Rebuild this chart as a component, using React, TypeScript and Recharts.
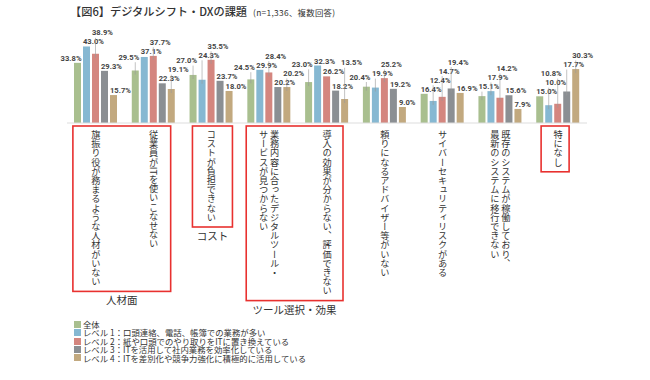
import React from "react";
import { Bar, BarChart, LabelList, Legend, XAxis, YAxis } from "recharts";

const categoryLines: string[][] = [
    ["旗振り役が務まるような人材がいない"],
    ["従業員がITを使いこなせない"],
    ["コストが負担できない"],
    ["業務内容に合ったデジタルツール・", "サービスが見つからない"],
    ["導入の効果が分からない、評価できない"],
    ["頼りになるアドバイザー等がいない"],
    ["サイバーセキュリティリスクがある"],
    ["既存のシステムが稼働しており、", "最新のシステムに移行できない"],
    ["特になし"],
];

const overall = [33.8, 29.5, 27.0, 24.5, 23.0, 20.4, 16.4, 15.1, 15.0];
const level1 = [43.0, 37.1, 24.3, 29.9, 32.3, 19.9, 12.4, 17.9, 10.0];
const level2 = [38.9, 37.7, 35.5, 28.4, 26.2, 25.2, 14.7, 14.2, 10.8];
const level3 = [29.3, 22.3, 23.7, 20.2, 18.2, 19.2, 19.4, 15.6, 17.7];
const level4 = [15.7, 19.1, 18.0, 20.2, 13.5, 9.0, 16.9, 7.9, 30.3];

const seriesNames = [
    "全体",
    "レベル 1：口頭連絡、電話、帳簿での業務が多い",
    "レベル 2：紙や口頭でのやり取りをITに置き換えている",
    "レベル 3：ITを活用して社内業務を効率化している",
    "レベル 4：ITを差別化や競争力強化に積極的に活用している",
];
const seriesValues = [overall, level1, level2, level3, level4];
const colors = ["#a9bf8f", "#86b8d2", "#d4867f", "#8b8f93", "#c2a97f"];

// red frames under the axis + their group captions
const groups = [
    { from: 0, to: 1, label: "人材面", padL: 23, padR: 17 },
    { from: 2, to: 2, label: "コスト", padL: 19, padR: 21 },
    { from: 3, to: 4, label: "ツール選択・効果", padL: 23, padR: 16 },
    { from: 8, to: 8, label: "", padL: 17, padR: 11 },
];

const data = categoryLines.map((lines, i) => {
    const row: Record<string, string | number> = { name: lines.join("") };
    seriesValues.forEach((vals, s) => { row["s" + s] = vals[i]; });
    return row;
});

const JP = "'Noto Sans CJK JP', sans-serif";
const NUM_SIZE = 7.6;
const NUM_FONT = "Roboto, 'DejaVu Sans', sans-serif";
const PLOT_LEFT = 67;
const PLOT_W = 520;
const PITCH = PLOT_W / 9;
const CHAR = 9.2;
const TEXT_TOP = 130;
const bandCenter = (i: number) => PLOT_LEFT + PITCH * (i + 0.5);

let ctx: CanvasRenderingContext2D | null = null;
const textW = (t: string) => {
    if (!ctx) ctx = document.createElement("canvas").getContext("2d");
    if (!ctx) return t.length * 4;
    ctx.font = `bold ${NUM_SIZE}px ${NUM_FONT}`;
    return ctx.measureText(t).width;
};

type Rect = { x0: number; x1: number; y0: number; y1: number };
type Lab = { x0: number; w: number; y: number; top: number; lead: boolean };

const fmt = (v: number) => v.toFixed(1) + "%";
const rectAt = (x0: number, w: number, y: number): Rect => ({ x0, x1: x0 + w, y0: y - 7.1, y1: y + 1.9 });

let cacheKey = "";
let cache: Lab[][] = [];

// place every value label so that none sits on a bar or on another label
const layoutAll = (base: number, k: number, gx0: number, bw: number): Lab[][] => {
    const key = [base, k, gx0, bw].join("|");
    if (key === cacheKey) return cache;
    const bars: Rect[] = [];
    categoryLines.forEach((_, g) => seriesValues.forEach((vals, j) => {
        const bx = gx0 + g * PITCH + j * (bw + 2);
        bars.push({ x0: bx, x1: bx + bw, y0: base - vals[g] * k, y1: base });
    }));
    const placed: Rect[] = [];
    const hit = (r: Rect) => [...placed, ...bars].find(o =>
        Math.min(o.x1, r.x1) - Math.max(o.x0, r.x0) > 0.3 && Math.min(o.y1, r.y1) - Math.max(o.y0, r.y0) > 0);
    const climb = (x0: number, w: number, y: number) => {
        let h = hit(rectAt(x0, w, y));
        let n = 0;
        while (h && n < 60) {
            y = Math.min(y, h.y0 - 2);
            h = hit(rectAt(x0, w, y));
            n++;
        }
        return y;
    };
    const res: Lab[][] = categoryLines.map((_, g) => seriesValues.map((vals, j) => {
        const v = vals[g];
        const w = textW(fmt(v)) + 0.5;
        const top = base - v * k;
        const bx = gx0 + g * PITCH + j * (bw + 2);
        const startX = bx;
        const endX = bx + bw + 1 - w;
        const cands = j === 0 ? [endX, startX] : [startX, endX];
        let best = { x0: cands[0], y: -1e9 };
        cands.forEach(c => {
            const y = climb(c, w, top - 2);
            if (y > best.y + 0.5) best = { x0: c, y };
        });
        let lead = best.y < top - 5;
        if (j === 4 && lead) {
            const rx = bx + bw + 1;
            const ry = top + 3;
            if (!hit(rectAt(rx, w, ry))) { best = { x0: rx, y: ry }; lead = false; }
        }
        placed.push(rectAt(best.x0, w, best.y));
        return { x0: best.x0, w, y: best.y, top, lead };
    }));
    cacheKey = key;
    cache = res;
    return res;
};

const makeLabel = (s: number) => (props: any) => {
    const { x, y, width, height, value, index } = props;
    if (!value) return null;
    const k = height / value;
    const gx0 = x - s * (width + 2) - index * PITCH;
    const l = layoutAll(y + height, k, gx0, width)[index][s];
    const cx = x + width / 2;
    return (
        <g>
            {l.lead && (
                <line x1={cx} x2={cx} y1={l.y + 2.5} y2={l.top + 4} stroke="#999" strokeWidth={0.6} />
            )}
            <text x={l.x0} y={l.y} fontSize={NUM_SIZE} fontWeight="bold" fill="#444" fontFamily={NUM_FONT}>
                {fmt(value)}
            </text>
        </g>
    );
};

const CategoryTick = (props: any) => {
    const { index } = props;
    const x = bandCenter(index);
    const lines = categoryLines[index] || [];
    const n = lines.length;
    const grp = groups.find(g => g.from === index);
    let frame = null;
    if (grp) {
        const maxChars = Math.max(
            ...categoryLines.slice(grp.from, grp.to + 1).flat().map(l => Array.from(l).length)
        );
        const left = x - grp.padL;
        const right = bandCenter(grp.to) + grp.padR;
        const top = 126;
        const bottom = TEXT_TOP + maxChars * CHAR + 5;
        frame = (
            <g>
                <rect x={left} y={top} width={right - left} height={bottom - top} fill="none" stroke="#e8312f" strokeWidth={1.6} />
                {grp.label && (
                    <text x={(left + right) / 2} y={bottom + 13} textAnchor="middle" fontSize={10.5} fill="#333" fontFamily={JP}>
                        {grp.label}
                    </text>
                )}
            </g>
        );
    }
    return (
        <g>
            {lines.map((l, i) => (
                <text
                    key={i}
                    x={x + (n === 1 ? 0 : (n - 1 - 2 * i) * 5.5)}
                    y={TEXT_TOP}
                    fontSize={CHAR}
                    fill="#333"
                    fontFamily={JP}
                    style={{ writingMode: "vertical-rl" }}
                >
                    {l}
                </text>
            ))}
            {frame}
        </g>
    );
};

const LegendBox = () => (
    <div style={{ fontFamily: JP, fontSize: 8.4, color: "#333", lineHeight: "8.4px" }}>
        {seriesNames.map((n, i) => (
            <div key={i} style={{ display: "flex", alignItems: "center", whiteSpace: "nowrap" }}>
                <span style={{ display: "inline-block", width: 7, height: 7, background: colors[i], marginRight: 2 }} />
                {n}
            </div>
        ))}
    </div>
);

export default function App() {
    return (
        <div style={{ position: "absolute", left: 0, top: 0, width: 650, height: 380, background: "#fff" }}>
            <div style={{ position: "absolute", left: 70, top: 3, fontFamily: JP, color: "#333", whiteSpace: "nowrap", display: "flex", alignItems: "baseline" }}>
                <span style={{ fontSize: 11.2, fontWeight: 500 }}>【図6】デジタルシフト・DXの課題</span>
                <span style={{ fontSize: 8.4, marginLeft: 6, letterSpacing: 0.3 }}>(n=1,336、複数回答)</span>
            </div>
            <BarChart
                width={650}
                height={380}
                data={data}
                margin={{ top: 34, right: 650 - PLOT_LEFT - PLOT_W, left: PLOT_LEFT, bottom: 0 }}
                barSize={7}
                barGap={2}
            >
                <XAxis dataKey="name" height={257} interval={0} tickLine={false} axisLine={{ stroke: "#dddddd" }} tick={<CategoryTick />} />
                <YAxis hide domain={[0, 50]} />
                <Legend
                    layout="vertical"
                    align="center"
                    verticalAlign="middle"
                    content={() => <LegendBox />}
                    wrapperStyle={{ position: "absolute", left: 74, top: 320, width: 300 }}
                />
                {seriesValues.map((_, s) => (
                    <Bar key={s} dataKey={"s" + s} name={seriesNames[s]} fill={colors[s]} isAnimationActive={false}>
                        <LabelList dataKey={"s" + s} content={makeLabel(s)} />
                    </Bar>
                ))}
            </BarChart>
        </div>
    );
}
